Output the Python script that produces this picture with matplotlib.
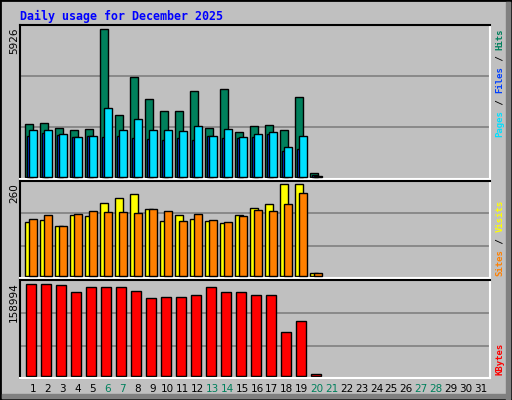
import matplotlib
matplotlib.use("Agg")
import matplotlib.pyplot as plt
from matplotlib.patches import Rectangle
import numpy as np

days = list(range(1, 32))
weekend_days = [6, 7, 13, 14, 20, 21, 27, 28]
hits = [2107, 2147, 1946, 1865, 1906, 5926, 2468, 3996, 3112, 2629, 2629, 3433, 1946, 3514, 1785, 2026, 2066, 1865, 3192, 137]
files = [1636, 1745, 1676, 1584, 1624, 1584, 1624, 1544, 1503, 1463, 1544, 1463, 1624, 1544, 1544, 1584, 1704, 1021, 1101, 60]
pages = [1865, 1865, 1704, 1584, 1624, 2749, 1865, 2307, 1865, 1865, 1825, 2026, 1624, 1906, 1584, 1704, 1785, 1182, 1624, 40]
visits = [153, 158, 141, 172, 170, 206, 220, 232, 189, 155, 172, 161, 155, 150, 172, 192, 203, 260, 260, 8]
sites = [161, 172, 141, 175, 184, 181, 181, 178, 189, 184, 155, 175, 158, 153, 170, 186, 184, 203, 235, 8]
kbytes = [158994, 158800, 157100, 144950, 153600, 153600, 153600, 146700, 134500, 136200, 136200, 139700, 153600, 144950, 144950, 139700, 139700, 75400, 94500, 2300]

BG = "#C0C0C0"
W, H = 512, 400
fig = plt.figure(figsize=(W/100, H/100), dpi=100, facecolor=BG)

def ax_at(x0, y0, x1, y1):
    return fig.add_axes([x0/W, 1-y1/H, (x1-x0)/W, (y1-y0)/H])

def style(ax, ylo, yhi):
    ax.set_facecolor(BG)
    ax.set_xlim(0.267, 31.6)
    ax.set_ylim(ylo, yhi)
    for s in ["top", "left"]:
        ax.spines[s].set_color("black"); ax.spines[s].set_linewidth(1.5)
    for s in ["bottom", "right"]:
        ax.spines[s].set_color("white"); ax.spines[s].set_linewidth(1.5)
    ax.set_xticks([]); ax.set_yticks([])

def gridlines(ax, fracs):
    for f in fracs:
        ax.plot([0, 1], [f, f], transform=ax.transAxes, color="#808080", lw=1.2, zorder=0)

n = len(hits)
x = np.arange(1, n+1)
ek = dict(edgecolor="black", linewidth=1.0, align="edge")

ax1 = ax_at(20, 25, 490, 179)
style(ax1, -92, 6098)
gridlines(ax1, [0.338, 0.669])
ax1.bar(x-0.4, hits, width=0.53, color="#00805C", zorder=2, **ek)
ax1.bar(x-0.25, files, width=0.4, color="#0040FF", zorder=3, **ek)
ax1.bar(x-0.11, pages, width=0.49, color="#00E0FF", zorder=4, **ek)

ax2 = ax_at(20, 181, 490, 278)
style(ax2, -4.8, 269.3)
gridlines(ax2, [0.33, 0.667])
ax2.bar(x-0.4, visits, width=0.53, color="#FFFF00", zorder=2, **ek)
ax2.bar(x-0.11, sites, width=0.49, color="#FF8000", zorder=3, **ek)

ax3 = ax_at(20, 280, 490, 378)
style(ax3, -4000, 166470)
gridlines(ax3, [0.327, 0.666])
ax3.bar(x-0.31, kbytes, width=0.67, color="#FF0000", zorder=2, **ek)

for d in days:
    px = 31 + (d-1)*14.93 + 2
    fig.text(px/W, 1-389/H, str(d), ha="center", va="center", fontsize=7.5,
             color="#00805C" if d in weekend_days else "black")

fig.text(20/W, 1-16/H, "Daily usage for December 2025", family="DejaVu Sans Mono",
         weight="bold", fontsize=8.4, color="#0000FF", ha="left", va="center")

for txt, ytop in [("5926", 27), ("260", 183), ("158994", 282)]:
    fig.text(14/W, 1-ytop/H, txt, rotation=90, ha="center", va="top", fontsize=7.5, color="black")

cw = 5.45
def stack(parts, ybottom):
    y = ybottom
    for t, c in parts:
        fig.text(500/W, 1-y/H, t, rotation=90, ha="center", va="bottom", fontsize=6.5,
                 family="DejaVu Sans Mono", weight="bold", color=c)
        y -= cw*len(t)
stack([("Pages", "#00E0FF"), (" / ", "black"), ("Files", "#0040FF"), (" / ", "black"), ("Hits", "#00805C")], 137)
stack([("Sites", "#FF8000"), (" / ", "black"), ("Visits", "#FFFF00")], 276)
stack([("KBytes", "#FF0000")], 375)

fig.patches.append(Rectangle((0, 0), 1, 1, transform=fig.transFigure, fill=False, edgecolor="black", lw=2))
fig.patches.append(Rectangle((506/W, 0), 4/W, 1-2/H, transform=fig.transFigure, color="#808080"))
fig.patches.append(Rectangle((2/W, 2/H), 1-8/W, 4/H, transform=fig.transFigure, color="#808080"))

fig.savefig("out.png", dpi=100, facecolor=BG)
